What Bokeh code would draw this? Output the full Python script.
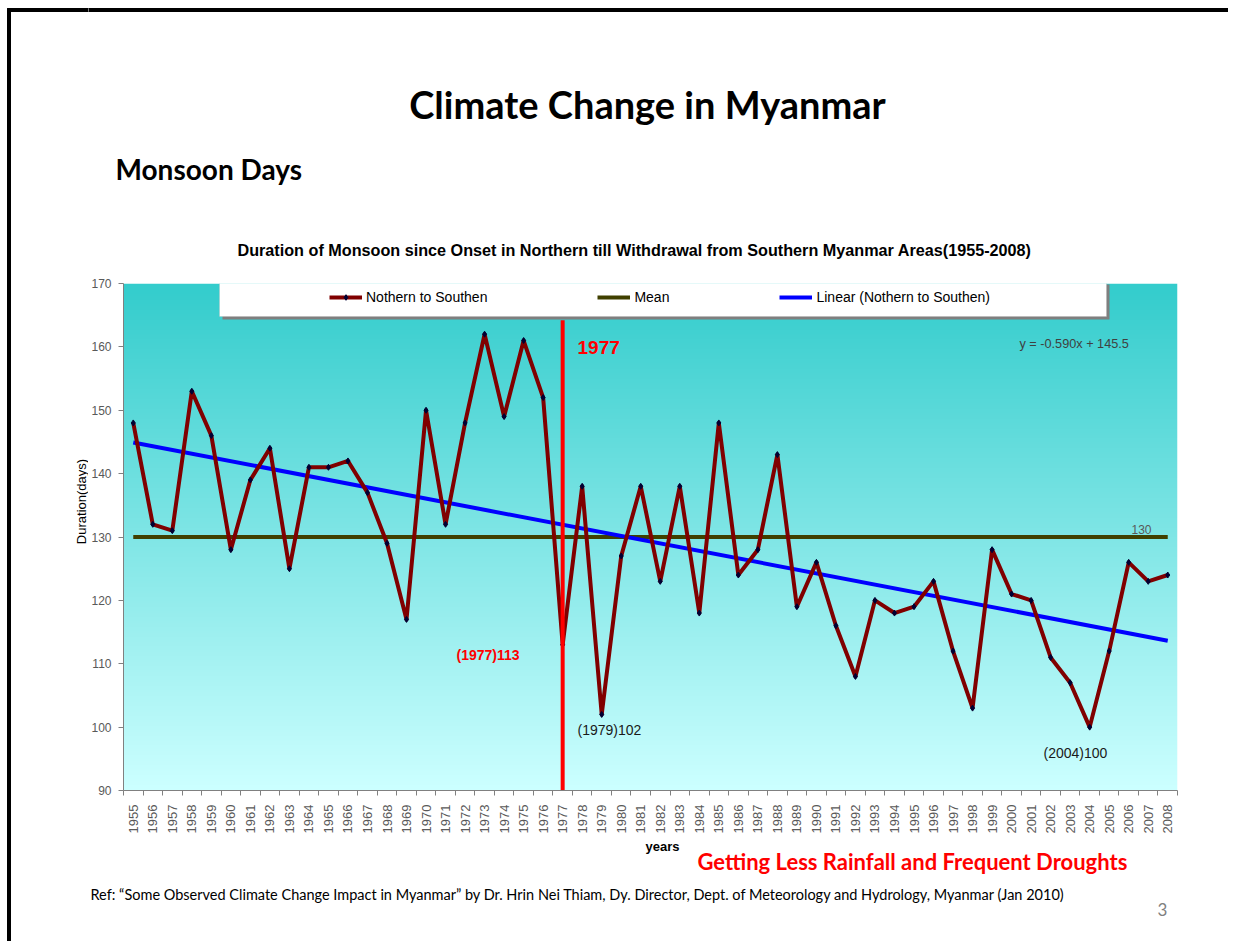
import math
import numpy as np
from bokeh.plotting import figure
from bokeh.layouts import column, row
from bokeh.models import Range1d, FixedTicker, Label, BoxAnnotation, Legend, LegendItem
from bokeh.embed import file_html
from bokeh.resources import INLINE

# ---------------- data ----------------
years = list(range(1955, 2009))
days = [148, 132, 131, 153, 146, 128, 139, 144, 125, 141,
        141, 142, 137, 129, 117, 150, 132, 148, 162, 149,
        161, 152, 113, 138, 102, 127, 138, 123, 138, 118,
        148, 124, 128, 143, 119, 126, 116, 108, 120, 118,
        119, 123, 112, 103, 128, 121, 120, 111, 107, 100,
        112, 126, 123, 124]
mean_value = 130
trend_slope = -0.590
trend_intercept = 145.5
y_ticks = [90, 100, 110, 120, 130, 140, 150, 160, 170]
shift_year = 1977
shift_line_top = 164.2
series_name = "Nothern to Southen"
mean_name = "Mean"
trend_name = "Linear (Nothern to Southen)"

# ---------------- layout (page pixels) ----------------
W = 1228
H = 941
LEFT_W = 88          # width of the left strip (slide border + y title)
TOP_H = 268          # bottom of header strip
MID_B = 838          # bottom of chart strip
FL, FT, FR, FB = 123, 283, 1177, 790   # plot frame in page coords
BORDER_X0, BORDER_X1 = 7, 10
BORDER_Y0, BORDER_Y1 = 8, 11


def strip(x0, x1, y0, y1):
    f = figure(width=x1 - x0, height=y1 - y0, output_backend="svg", toolbar_location=None,
               x_range=Range1d(x0, x1), y_range=Range1d(y1, y0),
               min_border=0, x_axis_location=None, y_axis_location=None,
               outline_line_color=None, background_fill_color="white", border_fill_color="white")
    f.grid.visible = False
    return f


def put(f, text, x, y, size, font="Liberation Sans", color="black", bold=False,
        align="left", baseline="alphabetic", angle=0.0):
    f.add_layout(Label(x=x, y=y, text=text, text_font=font, text_font_size=size, text_color=color,
                       text_font_style="bold" if bold else "normal",
                       text_align=align, text_baseline=baseline, angle=angle))


# ---------- left strip: slide border + y-axis title ----------
left = strip(0, LEFT_W, 0, H)
left.quad(left=BORDER_X0, right=BORDER_X1, top=BORDER_Y0, bottom=H, color="black")
left.quad(left=BORDER_X0, right=LEFT_W + 1, top=BORDER_Y0, bottom=BORDER_Y1, color="black")
put(left, "Duration(days)", 81, 501, "13px", align="center", baseline="middle", angle=math.pi / 2)

# ---------- header strip ----------
top = strip(LEFT_W, W, 0, TOP_H)
top.quad(left=LEFT_W - 1, right=W, top=BORDER_Y0, bottom=BORDER_Y1, color="black")
put(top, "Climate Change in Myanmar", 647, 103, "38px", font="Lato", bold=True, align="center")
put(top, "Monsoon Days", 115, 168, "28px", font="Lato", bold=True)
put(top, "Duration of Monsoon since Onset in Northern till Withdrawal from Southern Myanmar Areas(1955-2008)",
    634, 249.5, "16.2px", bold=True, align="center")

# ---------- chart ----------
p = figure(width=W - LEFT_W, height=MID_B - TOP_H, output_backend="svg", toolbar_location=None,
           x_range=Range1d(years[0] - 0.5, years[-1] + 0.5),
           y_range=Range1d(y_ticks[0], y_ticks[-1]),
           min_border_left=FL - LEFT_W, min_border_right=W - FR,
           min_border_top=FT - TOP_H, min_border_bottom=MID_B - FB)
p.grid.visible = False
p.outline_line_color = None
p.background_fill_color = "white"
p.border_fill_color = "white"

# gradient background of the plot area
n = 256
top_c = np.array([51, 204, 204], dtype=float)
bot_c = np.array([204, 255, 255], dtype=float)
t = np.linspace(0.0, 1.0, n)[:, None]
cols = (bot_c * (1 - t) + top_c * t).round().astype(np.uint8)
img = np.empty((n, 1), dtype=np.uint32)
v = img.view(dtype=np.uint8).reshape((n, 1, 4))
v[:, 0, 0] = cols[:, 0]
v[:, 0, 1] = cols[:, 1]
v[:, 0, 2] = cols[:, 2]
v[:, 0, 3] = 255
xr, yr = p.x_range, p.y_range
p.image_rgba(image=[img], x=xr.start, y=yr.start, dw=xr.end - xr.start, dh=yr.end - yr.start)

# series
r_mean = p.line([years[0], years[-1]], [mean_value, mean_value], line_color="#404000", line_width=4)
trend_x = [years[0], years[-1]]
trend_y = [trend_intercept + trend_slope * 1, trend_intercept + trend_slope * len(years)]
r_trend = p.line(trend_x, trend_y, line_color="#0000FF", line_width=4)
r_line = p.line(years, days, line_color="#800000", line_width=4, line_join="round")
r_pts = p.scatter(years, days, marker="diamond", size=6, fill_color="#000033", line_color="#000033")
p.segment(x0=[shift_year], y0=[yr.start], x1=[shift_year], y1=[shift_line_top],
          line_color="#FF0000", line_width=4)

# axes
ax = p.xaxis[0]
ax.ticker = FixedTicker(ticks=years, minor_ticks=[y - 0.5 for y in years] + [years[-1] + 0.5])
ax.major_tick_out = 0
ax.major_tick_in = 0
ax.minor_tick_out = 5
ax.minor_tick_in = 0
ax.minor_tick_line_color = "#808080"
ax.axis_line_color = "#808080"
ax.major_label_orientation = math.pi / 2
ax.major_label_text_font = "Liberation Sans"
ax.major_label_text_font_size = "13px"
ax.major_label_text_color = "#595959"
ax.major_label_standoff = 9

ay = p.yaxis[0]
ay.ticker = FixedTicker(ticks=y_ticks)
ay.major_tick_out = 5
ay.major_tick_in = 0
ay.major_tick_line_color = "#808080"
ay.minor_tick_line_color = None
ay.axis_line_color = "#808080"
ay.major_label_text_font = "Liberation Sans"
ay.major_label_text_font_size = "12px"
ay.major_label_text_color = "#595959"
ay.major_label_standoff = 7


def sx(x):
    return x - FL


def sy(y):
    return FB - y


# legend frame (shadow + white box)
p.add_layout(BoxAnnotation(left=sx(222), right=sx(1109), top=sy(284), bottom=sy(319),
                           left_units="screen", right_units="screen", top_units="screen", bottom_units="screen",
                           fill_color="#7f7f7f", fill_alpha=1, line_alpha=0))
p.add_layout(BoxAnnotation(left=sx(219), right=sx(1106), top=sy(281), bottom=sy(316),
                           left_units="screen", right_units="screen", top_units="screen", bottom_units="screen",
                           fill_color="white", fill_alpha=1, line_color="#b0b0b0", line_width=1))

legend = Legend(items=[LegendItem(label=series_name, renderers=[r_line, r_pts]),
                       LegendItem(label=mean_name, renderers=[r_mean]),
                       LegendItem(label=trend_name, renderers=[r_trend])],
                orientation="horizontal", location=(sx(329), sy(305)),
                padding=0, margin=0, spacing=110, glyph_width=33, glyph_height=14,
                label_height=14, label_standoff=4,
                label_text_font="Liberation Sans", label_text_font_size="14px",
                label_text_color="black",
                border_line_color=None, background_fill_alpha=0)
p.add_layout(legend)


def note(text, x, y, size, color="black", bold=False):
    p.add_layout(Label(x=sx(x), y=sy(y), x_units="screen", y_units="screen", text=text,
                       text_font="Liberation Sans", text_font_size=size, text_color=color,
                       text_font_style="bold" if bold else "normal"))


note("1977", 577, 353, "19px", color="#FF0000", bold=True)
note("(1977)113", 456, 662, "14px", color="#FF0000", bold=True)
note("(1979)102", 577, 737, "14px", color="#1a1a1a")
note("(2004)100", 1043, 760, "14px", color="#1a1a1a")
note("y = -0.590x + 145.5", 1019, 350, "12.7px", color="#404040")
note("130", 1131, 533, "12px", color="#595959")

# ---------- footer strip ----------
bot = strip(LEFT_W, W, MID_B, H)
put(bot, "years", 662, 846, "13px", bold=True, align="center")
put(bot, "Getting Less Rainfall and Frequent Droughts", 697, 861, "22px", font="Lato", color="#FF0000", bold=True)
put(bot, "Ref: \u201cSome Observed Climate Change Impact in Myanmar\u201d   by Dr. Hrin Nei Thiam, Dy. Director, "
         "Dept. of Meteorology and Hydrology, Myanmar (Jan 2010)", 90, 893.5, "14.5px", font="Lato")
put(bot, "3", 1157, 908.5, "17px", font="Lato", color="#808080")

layout = row(left, column(top, row(p, spacing=0), bot, spacing=0), spacing=0)
open("out.html", "w").write(file_html(layout, INLINE))
